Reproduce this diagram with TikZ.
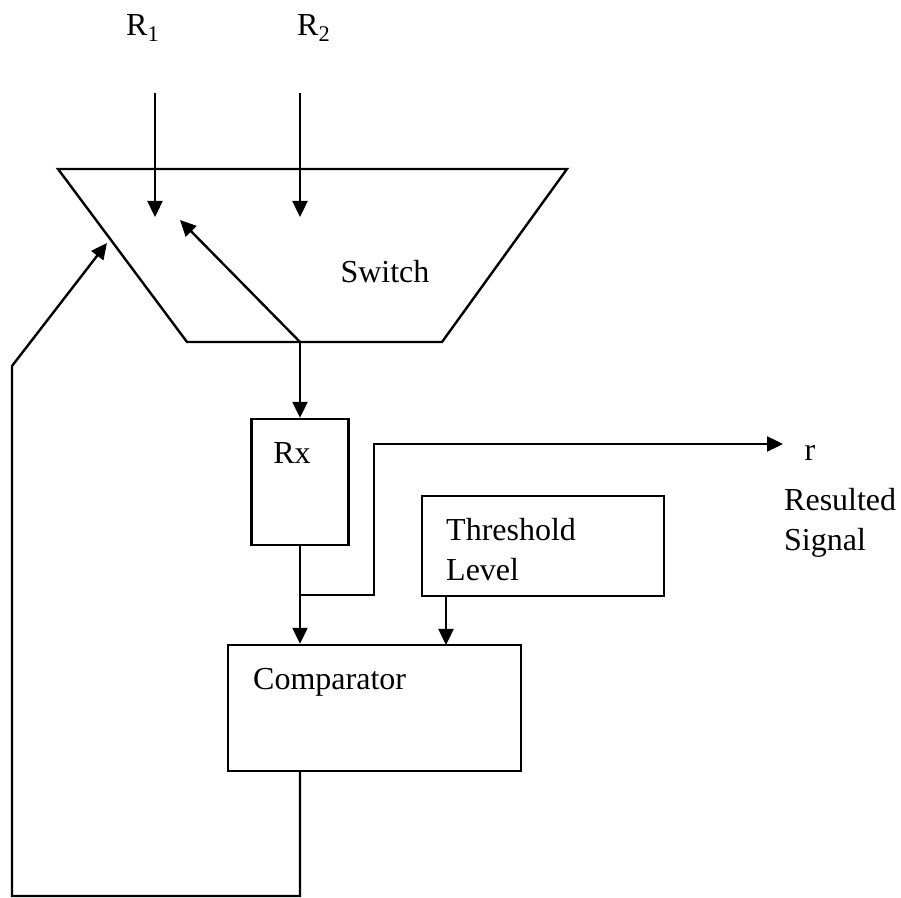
\documentclass[tikz,border=0pt]{standalone}
\usepackage{fontspec}
\setmainfont{Liberation Serif}
\usetikzlibrary{arrows.meta}

\begin{document}
\begin{tikzpicture}[>={Triangle[length=8pt,width=7.5pt]},line width=1.2pt,x=0.5pt,y=-0.5pt,
  font=\fontsize{16}{20}\selectfont]
\tikzset{box/.style={draw,rectangle,inner sep=0pt},
  txt/.style={inner sep=0pt,align=left}}
\useasboundingbox (0,0) rectangle (901,898);
% switch
\coordinate (swa) at (58,169);
\coordinate (swb) at (567,169);
\coordinate (swc) at (442,342);
\coordinate (swd) at (187,342);
\coordinate (swout) at (300,342);
\draw (swa)--(swb)--(swc)--(swd)--cycle;
\node[txt] (switch) at (385,272) {Switch};
% inputs
\node[txt] (r1) at (143,28) {R\textsubscript{1}};
\node[txt] (r2) at (314,28) {R\textsubscript{2}};
\coordinate (r1top) at (155,93);
\coordinate (r1end) at (155,217);
\coordinate (r2top) at (300,93);
\coordinate (r2end) at (300,217);
\coordinate (swtip) at (180,220);
\draw[->] (r1top)--(r1end);
\draw[->] (r2top)--(r2end);
\draw[->] (swout)--(swtip);
% blocks
\node[box,minimum width=48.5pt,minimum height=63pt] (rx) at (300,482) {};
\node[txt] (rxtext) at (292,453) {Rx};
\node[box,minimum width=121pt,minimum height=50pt] (thr) at (543,546) {};
\node[txt,anchor=west] (thrtext) at (445,550) {Threshold\\Level};
\node[box,minimum width=146.5pt,minimum height=63pt] (cmp) at (374.5,708) {};
\node[txt,anchor=west] (cmptext) at (252,682) {Comparator};
\node[txt] (r) at (810,453) {r};
\node[txt,anchor=west] (res) at (783,523) {Resulted\\Signal};
% connections
\draw[->] (swout)--(rx.north);
\draw[->] (rx.south)--(rx.south |- cmp.north);
\coordinate (rxj) at (300,595);
\coordinate (outc) at (374,444);
\coordinate (outend) at (783,444);
\draw[->] (rxj)-|(outc)--(outend);
\draw[->] (thr.south -| 446,0)--(446,645);
% feedback
\coordinate (fba) at (300,896);
\coordinate (fbb) at (12,896);
\coordinate (fbc) at (12,366);
\coordinate (fbtip) at (107,243);
\draw[->] (rx.south |- cmp.south)--(fba)--(fbb)--(fbc)--(fbtip);
\end{tikzpicture}
\end{document}
